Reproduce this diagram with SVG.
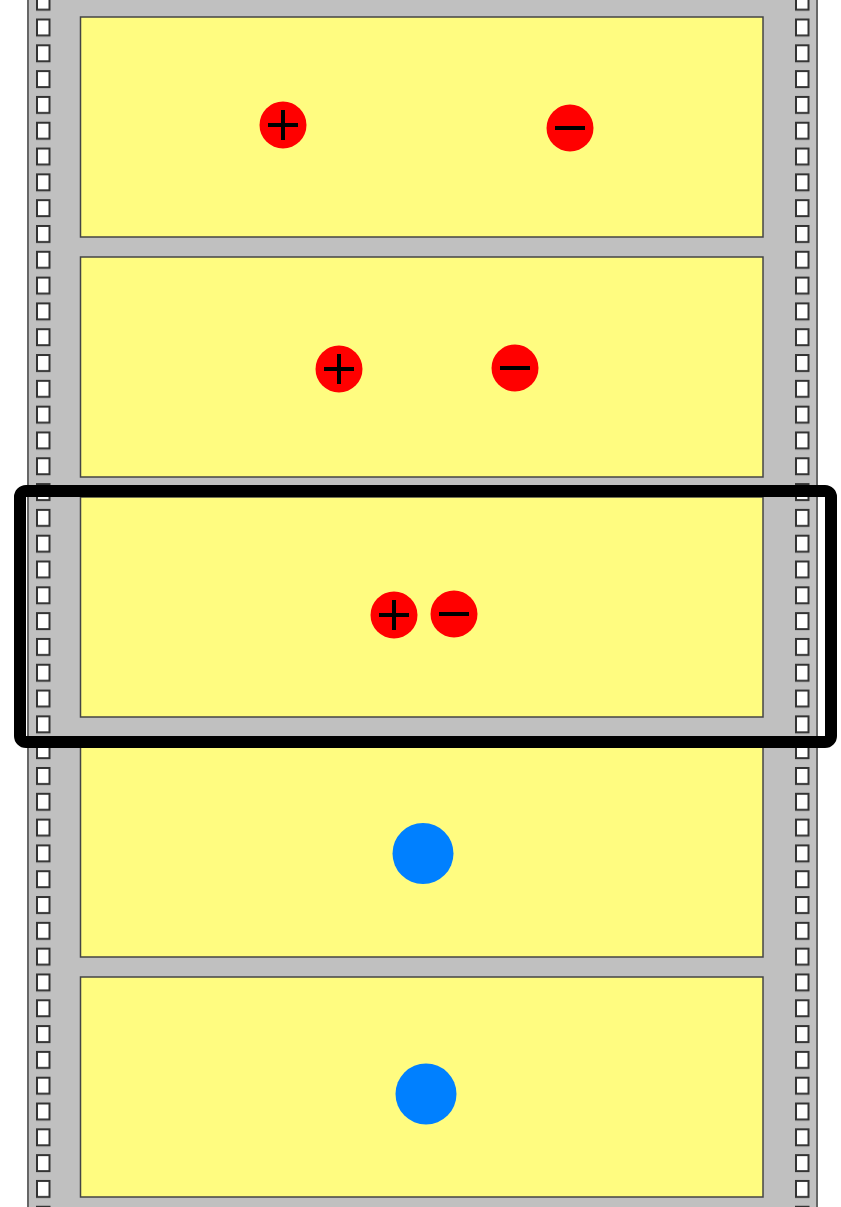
<svg xmlns="http://www.w3.org/2000/svg" width="841" height="1207" viewBox="0 0 841 1207">
<style>
.frame{fill:#FFFC80;stroke:#444;stroke-width:1.5}
.pos,.neg{fill:#FF0000}
.sym{stroke:#000;stroke-width:4;fill:none}
.neutral{fill:#0080FF}
</style>
<defs>
<pattern id="holesL" patternUnits="userSpaceOnUse" x="36" y="18.5" width="15" height="25.81">
<rect x="1" y="1" width="12.5" height="16" fill="#fff" stroke="#333" stroke-width="2"/>
</pattern>
<pattern id="holesR" patternUnits="userSpaceOnUse" x="795" y="18.5" width="15" height="25.81">
<rect x="1" y="1" width="12.5" height="16" fill="#fff" stroke="#333" stroke-width="2"/>
</pattern>
</defs>
<rect width="841" height="1207" fill="#fff"/>
<g id="filmstrip">
<rect x="28" y="-5" width="789" height="1217" fill="#C0C0C0" stroke="#666" stroke-width="2"/>
<rect x="36" y="0" width="15" height="1207" fill="url(#holesL)"/>
<rect x="795" y="0" width="15" height="1207" fill="url(#holesR)"/>
</g>
<g id="frame1">
<rect class="frame" x="80.5" y="17" width="682.5" height="220"/>
<circle class="pos" cx="283" cy="125" r="23.5"/>
<path class="sym" d="M268 125H298M283 110V140"/>
<circle class="neg" cx="570" cy="128" r="23.5"/>
<path class="sym" d="M555 128H585"/>
</g>
<g id="frame2">
<rect class="frame" x="80.5" y="257" width="682.5" height="220"/>
<circle class="pos" cx="339" cy="369" r="23.5"/>
<path class="sym" d="M324 369H354M339 354V384"/>
<circle class="neg" cx="515" cy="368" r="23.5"/>
<path class="sym" d="M500 368H530"/>
</g>
<g id="frame3">
<rect class="frame" x="80.5" y="497" width="682.5" height="220"/>
<circle class="pos" cx="394" cy="615" r="23.5"/>
<path class="sym" d="M379 615H409M394 600V630"/>
<circle class="neg" cx="454" cy="614" r="23.5"/>
<path class="sym" d="M439 614H469"/>
</g>
<g id="frame4">
<rect class="frame" x="80.5" y="737" width="682.5" height="220"/>
<circle class="neutral" cx="423" cy="853.5" r="30.5"/>
</g>
<g id="frame5">
<rect class="frame" x="80.5" y="977" width="682.5" height="220"/>
<circle class="neutral" cx="426" cy="1094" r="30.5"/>
</g>
<g id="highlight">
<rect x="20" y="491" width="811" height="251" rx="6" fill="none" stroke="#000" stroke-width="12"/>
</g>
</svg>
